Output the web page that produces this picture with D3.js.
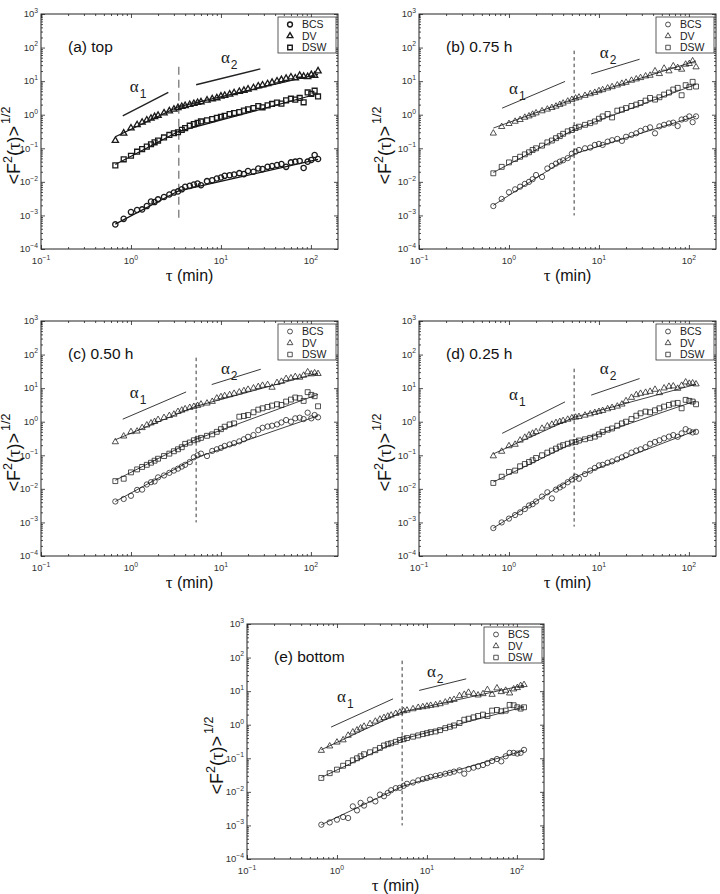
<!DOCTYPE html>
<html><head><meta charset="utf-8">
<script src="https://cdn.jsdelivr.net/npm/d3@7"></script>
<style>body{margin:0;background:#fff;} svg{display:block;font-family:"Liberation Sans",Arial,Helvetica,sans-serif;}</style>
</head><body><svg id="c" width="720" height="894"></svg>
<script>
// ---------------- data ----------------
const tau = [0.67,0.83,1.0,1.17,1.33,1.5,1.67,1.83,2.0,2.33,2.67,3.0,3.33,3.67,4.0,4.5,5.0,5.5,6.0,7,8,9,10,11,12.5,14,16,18,20,23,26,29,33,37,42,47,53,60,67,75,83,92,101,110,120];
const seriesNames = ["BCS","DV","DSW"];
const xTickValues = [0.1,1,10,100];
const yTickValues = [1e-4,1e-3,1e-2,1e-1,1,10,100,1000];
const panelTitles = ["(a) top","(b) 0.75 h","(c) 0.50 h","(d) 0.25 h","(e) bottom"];

const bcsA = [0.00054,0.00079,0.00126,0.00145,0.00151,0.0019,0.0026,0.0025,0.003,0.00355,0.0042,0.0048,0.0052,0.006,0.0071,0.0076,0.0083,0.0089,0.0079,0.0105,0.0112,0.0126,0.0135,0.0151,0.0158,0.0166,0.0182,0.017,0.021,0.02,0.025,0.024,0.028,0.0295,0.0316,0.034,0.028,0.038,0.04,0.042,0.026,0.04,0.045,0.063,0.048];
const dvA = [0.17,0.28,0.40,0.50,0.59,0.69,0.78,0.87,0.95,1.12,1.29,1.45,1.62,1.74,1.86,2.0,2.14,2.29,2.4,2.69,2.95,3.16,3.55,3.72,4.07,4.47,4.9,5.25,5.75,6.3,7.1,7.6,8.3,9.1,10.0,11.0,12.0,13.2,12.3,14.8,13.8,13.5,15.5,14.8,20];
const dswA = [0.031,0.047,0.060,0.079,0.095,0.112,0.132,0.151,0.17,0.21,0.25,0.28,0.30,0.355,0.40,0.47,0.525,0.575,0.63,0.68,0.74,0.81,0.87,0.93,1.05,1.12,1.2,1.32,1.45,1.58,1.82,1.66,1.9,2.09,2.29,2.14,2.69,3.0,2.82,3.16,2.34,4.6,4.2,5.2,3.5];

const bcsB = [0.0019,0.0031,0.0049,0.006,0.0072,0.0087,0.01,0.012,0.016,0.014,0.025,0.03,0.035,0.04,0.044,0.051,0.069,0.079,0.089,0.10,0.105,0.126,0.135,0.126,0.158,0.174,0.19,0.166,0.22,0.25,0.28,0.33,0.38,0.42,0.28,0.45,0.5,0.55,0.58,0.46,0.72,0.76,0.89,0.6,0.89];
const dvB = [0.28,0.44,0.54,0.63,0.71,0.83,0.91,1.02,1.12,1.29,1.45,1.62,1.78,2.0,2.19,2.51,2.82,3.09,3.31,3.72,4.17,4.57,5.13,5.5,6.17,6.76,7.59,8.51,9.12,10.5,11.5,12.6,14.1,14.8,20.0,16.6,24.0,20.0,28.2,25.1,22.4,31.6,33.1,39.8,26.3];
const dswB = [0.018,0.028,0.038,0.048,0.056,0.066,0.076,0.089,0.10,0.12,0.15,0.17,0.20,0.23,0.27,0.32,0.35,0.40,0.44,0.50,0.56,0.63,0.76,0.89,1.05,0.83,1.32,1.41,1.58,1.82,2.0,2.24,2.63,3.16,2.82,3.31,3.98,4.57,5.62,6.31,3.8,7.59,6.61,9.55,6.92];

const bcsC = [0.0042,0.005,0.0062,0.0093,0.0095,0.0135,0.0158,0.0166,0.022,0.025,0.03,0.035,0.04,0.046,0.052,0.063,0.087,0.10,0.112,0.095,0.135,0.151,0.166,0.19,0.21,0.23,0.26,0.30,0.355,0.40,0.56,0.66,0.72,0.76,0.83,0.95,1.12,1.0,1.26,1.32,1.2,1.86,1.26,1.58,1.35];
const dvC = [0.25,0.37,0.50,0.52,0.66,0.79,0.91,1.0,1.15,1.32,1.51,1.66,2.0,2.19,2.4,2.63,2.82,3.02,3.31,3.55,3.98,5.01,5.5,5.89,6.31,6.92,7.59,8.32,9.12,10.0,11.0,12.0,12.6,10.5,14.5,15.8,19.1,20.0,21.9,20.9,24.0,30.2,26.3,28.2,26.9];
const dswC = [0.017,0.02,0.031,0.038,0.045,0.052,0.06,0.069,0.079,0.095,0.112,0.132,0.151,0.174,0.219,0.24,0.28,0.30,0.33,0.38,0.42,0.5,0.6,0.71,0.83,0.89,1.41,1.48,1.58,1.91,2.29,2.51,2.75,3.02,3.31,3.16,3.98,4.57,5.25,5.01,4.17,7.59,6.31,5.75,2.88];

const bcsD = [0.00068,0.001,0.0013,0.00166,0.002,0.0025,0.0032,0.0035,0.0042,0.0059,0.0079,0.0052,0.0095,0.011,0.0126,0.0158,0.019,0.023,0.02,0.0275,0.035,0.042,0.05,0.052,0.06,0.066,0.076,0.087,0.10,0.12,0.138,0.151,0.174,0.22,0.25,0.28,0.32,0.36,0.40,0.355,0.45,0.60,0.52,0.48,0.5];
const dvD = [0.095,0.13,0.19,0.21,0.28,0.34,0.40,0.45,0.50,0.63,0.74,0.83,0.93,1.0,1.07,1.17,1.29,1.35,1.41,1.55,1.70,1.86,2.0,2.14,2.4,2.63,2.88,3.31,4.17,5.25,6.31,6.92,7.41,7.94,9.12,7.24,10.0,11.2,11.5,9.77,12.0,15.1,13.8,14.1,13.2];
const dswD = [0.015,0.023,0.032,0.035,0.047,0.055,0.063,0.071,0.083,0.1,0.12,0.138,0.158,0.182,0.2,0.22,0.24,0.25,0.275,0.30,0.33,0.36,0.42,0.5,0.575,0.63,0.76,0.89,1.0,1.2,1.51,1.78,2.0,1.91,2.19,2.51,2.82,3.16,3.47,3.63,2.51,4.47,4.17,3.98,3.31];

const bcsE = [0.00105,0.00123,0.00148,0.00178,0.00166,0.0037,0.0028,0.0047,0.0039,0.0059,0.0052,0.0083,0.0074,0.0093,0.0112,0.0129,0.0132,0.0151,0.0174,0.019,0.022,0.024,0.0257,0.028,0.030,0.0316,0.0347,0.037,0.04,0.0437,0.0347,0.048,0.0525,0.0575,0.063,0.072,0.083,0.095,0.081,0.115,0.145,0.145,0.138,0.145,0.178];
const dvE = [0.17,0.23,0.30,0.35,0.48,0.60,0.69,0.79,0.89,1.07,1.26,1.45,1.62,1.78,1.91,2.14,2.34,2.57,2.69,2.95,3.24,3.39,3.55,3.72,3.89,4.17,4.68,5.25,5.62,7.24,7.94,9.12,8.32,7.59,8.32,11.0,7.94,12.3,9.55,10.5,8.71,11.5,12.6,14.5,15.5];
const dswE = [0.026,0.036,0.046,0.06,0.072,0.087,0.10,0.115,0.132,0.151,0.174,0.204,0.24,0.263,0.28,0.31,0.35,0.37,0.40,0.44,0.48,0.525,0.56,0.6,0.63,0.69,0.79,0.87,0.95,1.12,1.41,1.51,1.66,1.82,2.0,1.82,2.63,2.75,2.51,2.63,3.89,3.8,3.31,3.02,3.31];

// crossover time (dashed line) and piecewise power-law fits: values at [tau start, crossover, tau end]
const crossTau = [3.4,5.3,5.3,5.3,5.3];
const fitTauStart = 0.67, fitTauEnd = 120;
const fitBCS = [[0.00055,0.0054,0.047],[0.002,0.068,0.9],[0.0042,0.085,1.5],[0.00068,0.022,0.55],[0.00105,0.0145,0.17]];
const fitDV  = [[0.22,1.75,16],[0.4,2.95,40],[0.29,2.9,28],[0.11,1.35,13],[0.18,2.4,15]];
const fitDSW = [[0.033,0.32,4.2],[0.019,0.36,8],[0.018,0.30,6.5],[0.016,0.24,4.2],[0.027,0.37,3.4]];
const dashTop = [27,81,81,38,81];
const dashBottom = [0.0008,0.001,0.001,0.00075,0.001];
// slope guide segments [[tau,value],[tau,value]] and label anchors
const alpha1Seg = [[[0.81,0.93],[2.6,4.6]],[[0.84,1.57],[4.2,9.8]],[[0.81,1.19],[4.1,7.7]],[[0.84,0.45],[4.2,3.9]],[[0.86,0.85],[4.2,5.9]]];
const alpha2Seg = [[[5.3,7.8],[27.4,23.2]],[[8.2,16.4],[28.3,44.9]],[[7.9,12.8],[27.7,36.6]],[[8.2,6.2],[28.3,19.3]],[[8.2,10.5],[27.3,23.2]]];
const alpha1Pos = [[0.97,4.8],[1.0,4.2],[0.97,5.1],[1.0,4.5],[1.0,4.9]];
const alpha2Pos = [[10,35],[10.2,48],[10,26],[10.2,27],[10,27]];

const bcsAll = [bcsA,bcsB,bcsC,bcsD,bcsE];
const dvAll = [dvA,dvB,dvC,dvD,dvE];
const dswAll = [dswA,dswB,dswC,dswD,dswE];

// ---------------- layout ----------------
const W = 297, H = 235;
const origins = [[41,14],[419,14],[41,321],[419,321],[247,624]];
const ylabOff = [-21,-28,-21,-28,-24];

const svg = d3.select("#c");
const x = d3.scaleLog().domain([0.1,200]).range([0,W]);
const y = d3.scaleLog().domain([1e-4,1e3]).range([H,0]);

function minorTicks(majors, lo, hi){
  const out=[];
  majors.forEach(m=>{ for(let k=2;k<=9;k++){ const v=m*k; if(v>lo && v<hi) out.push(v);} });
  return out;
}
const xMinor = minorTicks(xTickValues,0.1,200);
const yMinor = minorTicks(yTickValues.slice(0,-1),1e-4,1e3);

const symType = [d3.symbolCircle, d3.symbolTriangle, d3.symbolSquare];
const symSize = [22, 17, 24];

origins.forEach((o,i)=>{
  const bold = i===0;
  const ink = "#1a1a1a";
  const g = svg.append("g").attr("transform",`translate(${o[0]},${o[1]})`);

  // frame
  g.append("rect").attr("width",W).attr("height",H).attr("fill","none").attr("stroke","#222").attr("stroke-width",1);

  // ticks (inward, all four sides)
  const addAxis = (axis, tr) => {
    const a = g.append("g").attr("transform",tr).call(axis);
    a.select(".domain").remove();
    a.selectAll("line").attr("stroke","#222").attr("stroke-width",0.8);
    a.selectAll("text").remove();
  };
  addAxis(d3.axisBottom(x).tickValues(xTickValues).tickSize(-4).tickFormat(""), `translate(0,${H})`);
  addAxis(d3.axisBottom(x).tickValues(xMinor).tickSize(-2).tickFormat(""), `translate(0,${H})`);
  addAxis(d3.axisTop(x).tickValues(xTickValues).tickSize(-4).tickFormat(""), `translate(0,0)`);
  addAxis(d3.axisTop(x).tickValues(xMinor).tickSize(-2).tickFormat(""), `translate(0,0)`);
  addAxis(d3.axisLeft(y).tickValues(yTickValues).tickSize(-4).tickFormat(""), `translate(0,0)`);
  addAxis(d3.axisLeft(y).tickValues(yMinor).tickSize(-2).tickFormat(""), `translate(0,0)`);
  addAxis(d3.axisRight(y).tickValues(yTickValues).tickSize(-4).tickFormat(""), `translate(${W},0)`);
  addAxis(d3.axisRight(y).tickValues(yMinor).tickSize(-2).tickFormat(""), `translate(${W},0)`);

  // tick labels 10^n
  xTickValues.forEach(v=>{
    const t = g.append("text").attr("x",x(v)).attr("y",H+15).attr("text-anchor","middle")
      .attr("font-size",9.5).attr("fill","#333");
    t.append("tspan").text("10");
    t.append("tspan").attr("dy",-4.5).attr("font-size",6.8).text(String(Math.round(Math.log10(v))).replace("-","\u2212"));
  });
  yTickValues.forEach(v=>{
    const t = g.append("text").attr("x",-3).attr("y",y(v)+3.3).attr("text-anchor","end")
      .attr("font-size",9.5).attr("fill","#333");
    t.append("tspan").text("10");
    t.append("tspan").attr("dy",-4.5).attr("font-size",6.8).text(String(Math.round(Math.log10(v))).replace("-","\u2212"));
  });

  // axis titles
  const xl = g.append("text").attr("x",W/2).attr("y",H+32).attr("text-anchor","middle").attr("font-size",16).attr("fill","#111");
  xl.append("tspan").attr("font-family","'Liberation Serif','DejaVu Serif',serif").attr("font-size",17).text("\u03C4");
  xl.append("tspan").text(" (min)");

  const yl = g.append("text").attr("transform",`translate(${ylabOff[i]},${H/2+14}) rotate(-90)`)
    .attr("text-anchor","middle").attr("font-size",18).attr("fill","#111");
  yl.append("tspan").text("<F");
  yl.append("tspan").attr("dy",-8).attr("font-size",12.5).text("2");
  yl.append("tspan").attr("dy",8).text("(");
  yl.append("tspan").attr("font-family","'Liberation Serif','DejaVu Serif',serif").attr("font-size",19).text("\u03C4");
  yl.append("tspan").text(")>");
  yl.append("tspan").attr("dy",-10).attr("dx",2).attr("font-size",12.5).text("1/2");

  // panel title
  g.append("text").attr("x",27).attr("y",38).attr("font-size",15.5).attr("fill","#111").text(panelTitles[i]);

  // crossover dashed line
  g.append("line").attr("x1",x(crossTau[i])).attr("x2",x(crossTau[i]))
    .attr("y1",y(dashTop[i])).attr("y2",y(dashBottom[i]))
    .attr("stroke", bold ? "#777" : "#222").attr("stroke-width", bold ? 1.3 : 0.9)
    .attr("stroke-dasharray", bold ? "8,5" : "3.5,3");

  // slope guides
  const line = d3.line().x(d=>x(d[0])).y(d=>y(d[1]));
  [alpha1Seg[i], alpha2Seg[i]].forEach(seg=>{
    g.append("path").attr("d",line(seg)).attr("fill","none").attr("stroke","#222").attr("stroke-width", bold?1.4:0.9);
  });
  [[alpha1Pos[i],"1"],[alpha2Pos[i],"2"]].forEach(([p,s])=>{
    const t = g.append("text").attr("x",x(p[0])).attr("y",y(p[1])).attr("font-size",17).attr("fill","#222")
      .attr("font-family","'Liberation Serif','DejaVu Serif',serif");
    t.append("tspan").text("\u03B1");
    t.append("tspan").attr("dy",6).attr("dx",1).attr("font-size",12).attr("font-family","'Liberation Sans',Arial,sans-serif").text(s);
  });

  // fits
  const fits = [fitBCS[i], fitDV[i], fitDSW[i]];
  fits.forEach(f=>{
    const pts = [[fitTauStart,f[0]],[crossTau[i],f[1]],[fitTauEnd,f[2]]];
    g.append("path").attr("d",line(pts)).attr("fill","none").attr("stroke","#111").attr("stroke-width", bold?1.2:0.8);
  });

  // markers
  const seriesData = [bcsAll[i], dvAll[i], dswAll[i]];
  seriesData.forEach((vals,s)=>{
    const sym = d3.symbol().type(symType[s]).size(symSize[s]);
    g.append("g").selectAll("path").data(vals).join("path")
      .attr("transform",(d,k)=>`translate(${x(tau[k])},${y(d)})`)
      .attr("d",sym).attr("fill","none").attr("stroke",ink).attr("stroke-width", bold?1.3:0.75);
  });

  // legend
  const lg = g.append("g").attr("transform",`translate(${W-60},3)`);
  lg.append("rect").attr("width",58).attr("height",36).attr("fill","#fff").attr("stroke","#333").attr("stroke-width",0.8);
  seriesNames.forEach((n,s)=>{
    const yy = 7.5 + s*11.5;
    lg.append("path").attr("transform",`translate(12,${yy})`).attr("d",d3.symbol().type(symType[s]).size(symSize[s]*0.85))
      .attr("fill","none").attr("stroke",ink).attr("stroke-width", bold?1.4:0.75);
    lg.append("text").attr("x",24).attr("y",yy+3.8).attr("font-size",10.5).attr("fill","#222").text(n);
  });
});
</script>
</body></html>
